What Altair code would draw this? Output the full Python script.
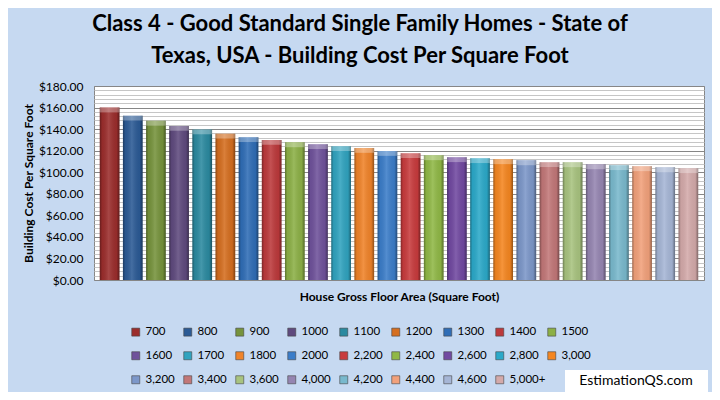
import altair as alt
import pandas as pd

sizes = ["700", "800", "900", "1000", "1100", "1200", "1300", "1400", "1500",
         "1600", "1700", "1800", "2000", "2,200", "2,400", "2,600", "2,800", "3,000",
         "3,200", "3,400", "3,600", "4,000", "4,200", "4,400", "4,600", "5,000+"]
costs = [160.0, 152.5, 147.7, 143.0, 139.7, 135.7, 132.5, 130.0, 127.7,
         126.0, 124.2, 122.5, 119.7, 117.7, 115.7, 113.9, 113.0, 112.0,
         111.0, 109.3, 109.2, 107.3, 106.5, 105.5, 104.5, 103.7]
colors = ["#9B2D2C", "#2B5A95", "#76933C", "#5F4A7E", "#2B8AA0", "#D56E1F",
          "#2F6DB6", "#BC393B", "#8CB046", "#6F529B", "#30A3BF", "#F08329",
          "#3B7DC9", "#C83B3D", "#90B846", "#7149A1", "#2BA9C9", "#F58620",
          "#7C97C9", "#C27778", "#A8C37F", "#9585B1", "#79B9CD", "#F2A17B",
          "#A6B6D6", "#D4AAAA"]
major_ticks = list(range(0, 181, 20))
minor_ticks = [v for v in range(0, 181, 4) if v % 20]
title_lines = ["Class 4 - Good Standard Single Family Homes  - State of",
               "Texas, USA  - Building Cost Per Square Foot"]
y_title = "Building Cost Per Square Foot"
x_title = "House Gross Floor Area (Square Foot)"
credit = ["EstimationQS.com"]

df = pd.DataFrame({"size": sizes, "cost": costs})
credit_df = pd.DataFrame({"t": credit})

FONT = "Lato"
y_scale = alt.Scale(domain=[0, 180], nice=False)
x_scale = alt.Scale(paddingInner=0.15, paddingOuter=0.25)

x_enc = alt.X("size:N", sort=sizes, scale=x_scale,
              axis=alt.Axis(title=x_title, labels=False, ticks=False, domain=False,
                            grid=False, titleFont=FONT, titleFontSize=12,
                            titleFontWeight="bold", titleColor="black",
                            titleY=16, titleBaseline="middle"))
y_major = alt.Y("cost:Q", scale=y_scale,
                axis=alt.Axis(title=y_title, values=major_ticks, format="$.2f",
                              labelFont=FONT, labelFontSize=12, labelColor="black",
                              labelPadding=11, ticks=False, tickSize=0,
                              domain=False, grid=True, gridColor="#868686",
                              titleFont=FONT, titleFontSize=12, titleFontWeight="bold",
                              titleColor="black", titleX=-66, titleY=97,
                              titleBaseline="middle"))
y_minor = alt.Y("cost:Q", scale=y_scale,
                axis=alt.Axis(title=None, values=minor_ticks, labels=False,
                              ticks=False, domain=False, grid=True,
                              gridColor="#C6C6C6", orient="right"))

bars = alt.Chart(df).mark_bar().encode(
    x=x_enc,
    y=y_major,
    color=alt.Color("size:N", sort=sizes,
                    scale=alt.Scale(domain=sizes, range=colors),
                    legend=alt.Legend(title=None, orient="none", legendX=36, legendY=240,
                                      columns=9, direction="horizontal",
                                      symbolType="square", symbolSize=64,
                                      symbolStrokeColor="#444444", symbolStrokeWidth=0.6,
                                      labelFont=FONT, labelFontSize=11.5, labelColor="black",
                                      labelOffset=4, columnPadding=0, rowPadding=11,
                                      gridAlign="all", padding=0)),
)

shade = alt.Chart(df).mark_bar(
    color=alt.Gradient(gradient="linear", x1=0, x2=1, y1=0, y2=0,
                       stops=[alt.GradientStop(offset=0, color="rgba(0,0,0,0.35)"),
                              alt.GradientStop(offset=0.12, color="rgba(0,0,0,0.05)"),
                              alt.GradientStop(offset=0.45, color="rgba(255,255,255,0.12)"),
                              alt.GradientStop(offset=0.85, color="rgba(0,0,0,0.05)"),
                              alt.GradientStop(offset=1, color="rgba(0,0,0,0.4)")])
).encode(x=alt.X("size:N", sort=sizes, scale=x_scale), y=y_minor)

cap = alt.Chart(df).transform_calculate(
    cap_lo="datum.cost - 4.5"
).mark_bar(color="white", opacity=0.3).encode(
    x=alt.X("size:N", sort=sizes, scale=x_scale),
    y=alt.Y("cost:Q", scale=y_scale, axis=None), y2="cap_lo:Q")

credit_box = alt.Chart(credit_df).mark_rect(color="white").encode(
    x=alt.value(471), x2=alt.value(614), y=alt.value(284), y2=alt.value(306))
credit_text = alt.Chart(credit_df).mark_text(
    font=FONT, fontSize=14, color="black", align="center", baseline="middle"
).encode(text="t:N", x=alt.value(542), y=alt.value(295))

chart = alt.layer(bars, shade, cap, credit_box, credit_text).resolve_scale(
    y="shared"
).resolve_axis(y="independent").properties(
    width=610, height=194,
    autosize=alt.AutoSizeParams(type="none"),
    padding={"left": 86, "top": 78, "right": 8, "bottom": 112},
    title=alt.Title(title_lines, font=FONT, fontSize=22, fontWeight="bold",
                    color="black", anchor="middle", frame="group", dx=-39,
                    offset=12, lineHeight=32),
).configure(background="#C6D9F1").configure_view(
    stroke="#868686", strokeWidth=1, fill="white")

chart.save("out.html", embed_options={"renderer": "svg", "actions": False})
